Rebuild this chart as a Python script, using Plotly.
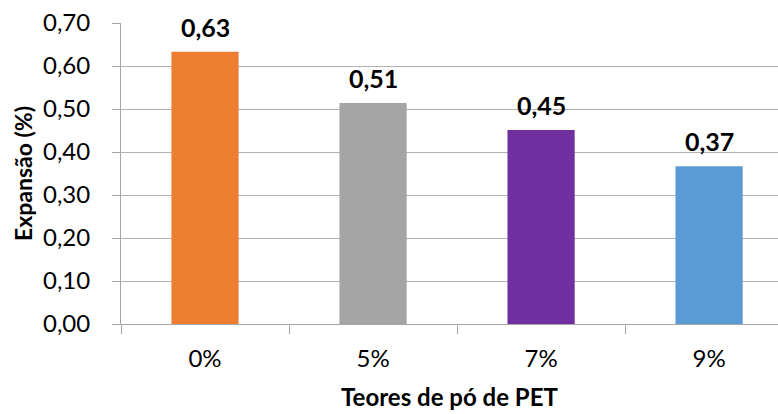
import plotly.graph_objects as go

# PET powder content and measured expansion
teores = ["0%", "5%", "7%", "9%"]
expansao = [0.633, 0.514, 0.451, 0.367]
cores = ["#ED7D31", "#A5A5A5", "#7030A0", "#5B9BD5"]
y_ticks = [0.0, 0.1, 0.2, 0.3, 0.4, 0.5, 0.6, 0.7]

FONT = "Lato"
fig = go.Figure()
fig.add_trace(go.Bar(
    x=teores, y=expansao, marker=dict(color=cores, line=dict(width=0)),
    hoverinfo="skip",
))

# bold value labels above each bar
for t, v in zip(teores, expansao):
    fig.add_annotation(
        x=t, y=v, text="<b>" + f"{v:.2f}".replace(".", ",") + "</b>",
        showarrow=False, yanchor="bottom", yshift=8,
        font=dict(family=FONT, size=25, color="#000000"),
    )

fig.update_layout(
    width=778, height=414,
    margin=dict(l=121, r=0, t=23, b=90),
    paper_bgcolor="white", plot_bgcolor="white",
    bargap=0.6, showlegend=False,
    separators=",.",
    font=dict(family=FONT, color="#000000"),
)
fig.update_xaxes(
    type="category", range=[-0.5, 3.41],
    tickson="boundaries", ticks="outside", ticklen=9, tickcolor="#a6a6a6",
    showline=True, linecolor="#a6a6a6", linewidth=1,
    showgrid=False, ticklabelstandoff=13,
    tickfont=dict(family=FONT, size=24),
    title=dict(text="<b>Teores de pó de PET</b>", font=dict(family=FONT, size=24), standoff=18),
)
fig.update_yaxes(
    range=[0, 0.7], tickvals=y_ticks,
    ticktext=[f"{v:.2f}".replace(".", ",") for v in y_ticks],
    ticks="outside", ticklen=8, tickcolor="#a6a6a6",
    showline=True, linecolor="#a6a6a6", linewidth=1,
    showgrid=True, gridcolor="#b3b3b3", gridwidth=1,
    zeroline=False, ticklabelstandoff=17,
    tickfont=dict(family=FONT, size=24),
    title=dict(text="<b>Expansão (%)</b>", font=dict(family=FONT, size=23), standoff=3),
)

fig.write_html("out.html")
